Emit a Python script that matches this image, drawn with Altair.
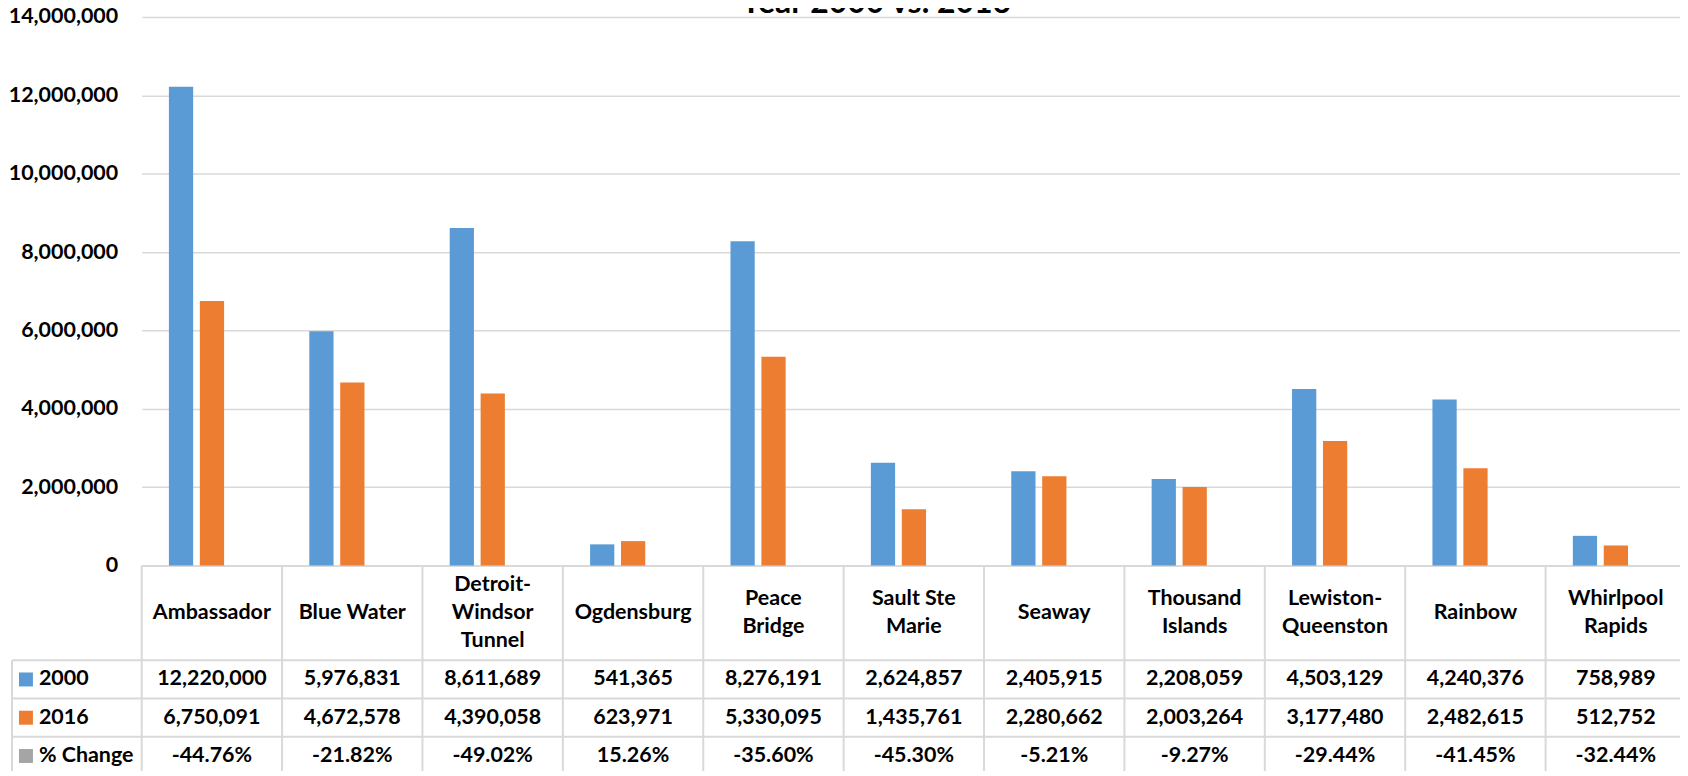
import altair as alt
import pandas as pd

categories = ["Ambassador", "Blue Water", "Detroit-Windsor Tunnel", "Ogdensburg", "Peace Bridge",
              "Sault Ste Marie", "Seaway", "Thousand Islands", "Lewiston-Queenston", "Rainbow",
              "Whirlpool Rapids"]
header_labels = ["Ambassador", "Blue Water", "Detroit-|Windsor|Tunnel", "Ogdensburg", "Peace|Bridge",
                 "Sault Ste|Marie", "Seaway", "Thousand|Islands", "Lewiston-|Queenston", "Rainbow",
                 "Whirlpool|Rapids"]
values_2000 = [12220000, 5976831, 8611689, 541365, 8276191, 2624857, 2405915, 2208059, 4503129, 4240376, 758989]
values_2016 = [6750091, 4672578, 4390058, 623971, 5330095, 1435761, 2280662, 2003264, 3177480, 2482615, 512752]
pct_change = [-44.76, -21.82, -49.02, 15.26, -35.60, -45.30, -5.21, -9.27, -29.44, -41.45, -32.44]
series = ["2000", "2016"]
rows = ["2000", "2016", "% Change"]
row_colors = ["#5B9BD5", "#ED7D31", "#A5A5A5"]
y_ticks = [0, 2000000, 4000000, 6000000, 8000000, 10000000, 12000000, 14000000]
title_text = "Year 2000 vs. 2016"

W, H_TOP, H_TAB = 1548, 550, 210
HEADER_H = 95
LINE_H = 28.5
LEG_X = -130
FONT = "Lato"
FS = 21.5
GRID = "#D9D9D9"

bar_df = pd.DataFrame({
    "category": categories * 2,
    "series": ["2000"] * len(categories) + ["2016"] * len(categories),
    "value": values_2000 + values_2016,
})

tab_df = pd.DataFrame({
    "category": categories * 3,
    "row": ["2000"] * len(categories) + ["2016"] * len(categories) + ["% Change"] * len(categories),
    "text": [f"{v:,}" for v in values_2000] + [f"{v:,}" for v in values_2016] + [f"{p:.2f}%" for p in pct_change],
})

head_df = pd.DataFrame({"category": categories, "label": header_labels})
leg_df = pd.DataFrame({"row": rows, "color": row_colors})

x_scale = alt.Scale(type="band", domain=categories, paddingInner=0, paddingOuter=0)

bars = alt.Chart(bar_df).mark_bar().encode(
    x=alt.X("category:N", sort=categories, scale=x_scale,
            axis=alt.Axis(labels=False, ticks=False, title=None, grid=False,
                          domainColor=GRID, domainWidth=2)),
    xOffset=alt.XOffset("series:N", sort=series,
                        scale=alt.Scale(domain=series, range=[27.3, 82.6], paddingInner=0.216, paddingOuter=0)),
    y=alt.Y("value:Q", scale=alt.Scale(domain=[0, 14000000], nice=False),
            axis=alt.Axis(values=y_ticks, format=",.0f", title=None, ticks=False, domain=False,
                          labelPadding=24, labelFont=FONT, labelFontSize=FS, labelFontWeight="bold",
                          labelColor="#000000", gridColor=GRID, gridWidth=1.5)),
    color=alt.Color("series:N", scale=alt.Scale(domain=series, range=row_colors[:2]), legend=None),
)

title_layer = alt.Chart(pd.DataFrame({"t": [title_text]})).mark_text(
    font=FONT, fontSize=32, fontWeight="bold", baseline="alphabetic", align="center", color="#000000"
).encode(x=alt.value(736), y=alt.value(-4), text="t:N")

top = alt.layer(bars, title_layer).properties(width=W, height=H_TOP)

row_y = alt.Y("row:N", sort=rows,
              scale=alt.Scale(type="band", domain=rows, range=[HEADER_H, H_TAB], paddingInner=0, paddingOuter=0),
              axis=None)
row_y_top = alt.Y("row:N", sort=rows, bandPosition=0,
                  scale=alt.Scale(type="band", domain=rows, range=[HEADER_H, H_TAB], paddingInner=0, paddingOuter=0),
                  axis=None)

txt = dict(font=FONT, fontSize=FS, fontWeight="bold", color="#000000")


def header_layer(n):
    return alt.Chart(head_df).transform_calculate(
        lines="split(datum.label, '|')"
    ).transform_filter(
        f"length(datum.lines) == {n}"
    ).mark_text(baseline="middle", align="center", lineHeight=LINE_H, **txt).encode(
        x=alt.X("category:N", sort=categories, scale=x_scale, axis=None),
        y=alt.value(HEADER_H / 2 - (n - 1) * LINE_H / 2),
        text="lines:N",
    )


cells = alt.Chart(tab_df).mark_text(baseline="middle", align="center", **txt).encode(
    x=alt.X("category:N", sort=categories, scale=x_scale, axis=None),
    y=row_y,
    text="text:N",
)

row_labels = alt.Chart(leg_df).mark_text(baseline="middle", align="left", **txt).encode(
    x=alt.value(LEG_X + 27),
    y=row_y,
    text="row:N",
)

squares = alt.Chart(leg_df).mark_square(size=196, opacity=1, filled=True).encode(
    x=alt.value(LEG_X + 14),
    y=row_y,
    color=alt.Color("color:N", scale=None),
)

vlines = alt.Chart(head_df).mark_rule(color=GRID, strokeWidth=2).encode(
    x=alt.X("category:N", sort=categories, scale=x_scale, axis=None, bandPosition=0),
    y=alt.value(0),
    y2=alt.value(H_TAB),
)

hlines = alt.Chart(leg_df).mark_rule(color=GRID, strokeWidth=2).encode(
    y=row_y_top,
    x=alt.value(LEG_X),
    x2=alt.value(W),
)

leg_border = alt.Chart(pd.DataFrame({"k": [0]})).mark_rule(color=GRID, strokeWidth=2).encode(
    x=alt.value(LEG_X),
    y=alt.value(HEADER_H),
    y2=alt.value(H_TAB),
)

table = alt.layer(vlines, hlines, leg_border, squares,
                  header_layer(1), header_layer(2), header_layer(3),
                  cells, row_labels).properties(width=W, height=H_TAB)

chart = alt.vconcat(top, table, spacing=0, bounds="flush").resolve_scale(
    x="independent", y="independent", color="independent"
).properties(
    padding={"top": -22, "left": 0, "right": -7, "bottom": -6},
    background="white",
).configure_view(stroke=None)

chart.save("out.html", embed_options={"renderer": "svg", "actions": False})
